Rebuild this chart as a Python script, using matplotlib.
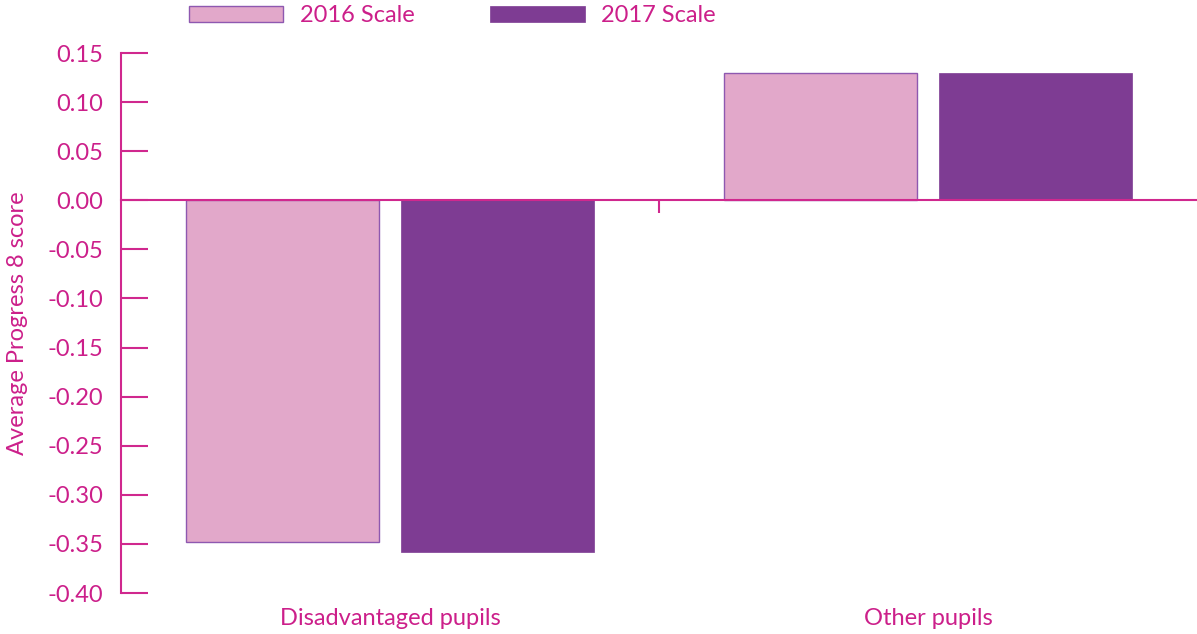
import matplotlib.pyplot as plt
import numpy as np

# ==========================
# Chart data
# ==========================
categories = ["Disadvantaged pupils", "Other pupils"]
scale_2016 = [-0.348, 0.13]
scale_2017 = [-0.358, 0.13]
series_names = ["2016 Scale", "2017 Scale"]
y_ticks = [0.15, 0.10, 0.05, 0.00, -0.05, -0.10, -0.15, -0.20, -0.25, -0.30, -0.35, -0.40]

# ==========================
# Styling
# ==========================
PINK_TEXT = "#CC1F8A"
AXIS_COLOR = "#D0288E"
LIGHT = "#E2A8CA"
LIGHT_EDGE = "#8E58B0"
DARK = "#7E3C93"
plt.rcParams["font.family"] = ["Lato", "DejaVu Sans"]
FS = 17

fig = plt.figure(figsize=(11.97, 6.34), dpi=100)
ax = fig.add_axes([121 / 1197, 41 / 634, 1 - 121 / 1197, 540 / 634])

x = np.arange(len(categories))
width = 0.36
ax.bar(x - 0.2, scale_2016, width, color=LIGHT, edgecolor=LIGHT_EDGE, linewidth=1.0,
       label=series_names[0], zorder=2)
ax.bar(x + 0.2, scale_2017, width, color=DARK, edgecolor=DARK, linewidth=0.5,
       label=series_names[1], zorder=2)

ax.set_xlim(-0.5, 1.5)
ax.set_ylim(-0.40, 0.15)

# y axis: ticks pointing inward
ax.set_yticks(y_ticks)
ax.set_yticklabels([f"{v:.2f}" for v in y_ticks])
ax.tick_params(axis="y", direction="in", length=19.5, width=1.5, color=AXIS_COLOR,
               labelcolor=PINK_TEXT, labelsize=FS, pad=13)
ax.set_ylabel("Average Progress 8 score", color=PINK_TEXT, fontsize=FS, labelpad=14)

# x axis drawn at zero with a separator tick between categories
ax.spines["bottom"].set_position(("data", 0))
ax.spines["bottom"].set_color(AXIS_COLOR)
ax.spines["bottom"].set_linewidth(1.5)
ax.spines["bottom"].set_zorder(3)
ax.spines["left"].set_color(AXIS_COLOR)
ax.spines["left"].set_linewidth(1.5)
ax.spines["top"].set_visible(False)
ax.spines["right"].set_visible(False)
ax.set_xticks([0.5])
ax.set_xticklabels([""])
ax.tick_params(axis="x", direction="out", length=9.5, width=1.5, color=AXIS_COLOR)

for xi, name in zip(x, categories):
    ax.text(xi, -0.047, name, transform=ax.get_xaxis_transform(), ha="center", va="center",
            color=PINK_TEXT, fontsize=FS)

fig.legend(loc="center", bbox_to_anchor=(0.378, 0.975), ncol=2, frameon=False,
           fontsize=FS, labelcolor=PINK_TEXT, handlelength=4.0, handleheight=0.65,
           handletextpad=0.7, columnspacing=3.2)

fig.savefig("out.png", dpi=100)
